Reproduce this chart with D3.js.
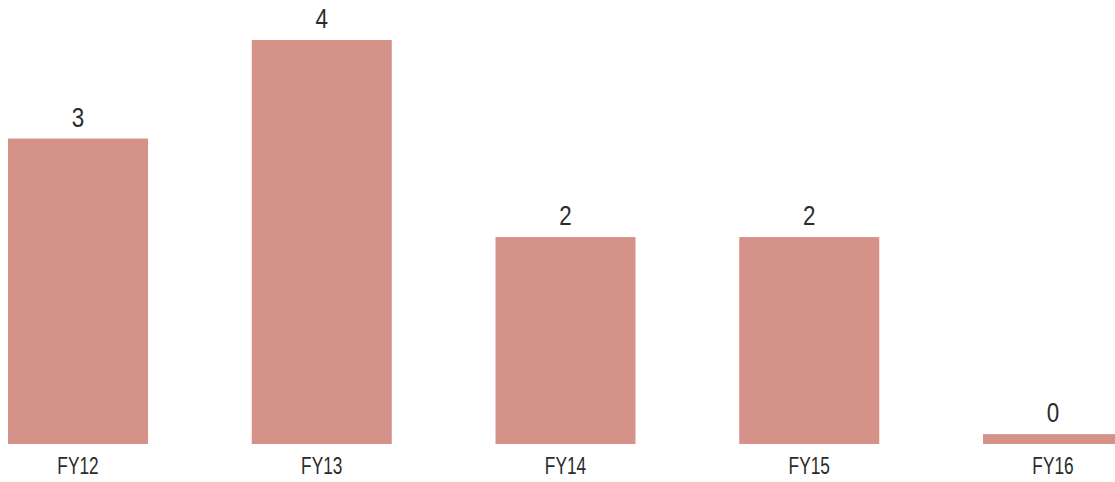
<!DOCTYPE html>
<html>
<head>
<meta charset="utf-8">
<script src="https://cdn.jsdelivr.net/npm/d3@7"></script>
<style>
  html, body { margin: 0; padding: 0; background: #ffffff; overflow: hidden; }
  svg { display: block; }
  text { font-family: "Liberation Sans Narrow", "Arial Narrow", sans-serif; fill: #2b2b2b; }
</style>
</head>
<body>
<svg id="chart" width="1115" height="482"></svg>
<script>
const categories = ["FY12", "FY13", "FY14", "FY15", "FY16"];
const values = [3, 4, 2, 2, 0];

const svg = d3.select("#chart");
const baselineY = 444, topY = 40;

const x = d3.scaleBand()
  .domain(categories)
  .range([8, 1123])
  .paddingInner(0.4256)
  .paddingOuter(0);

const y = d3.scaleLinear()
  .domain([-0.1, d3.max(values)])
  .range([baselineY, topY]);

const data = categories.map((c, i) => ({ c, v: values[i] }));

svg.append("g").selectAll("rect")
  .data(data)
  .join("rect")
  .attr("x", d => x(d.c))
  .attr("width", x.bandwidth())
  .attr("y", d => y(d.v))
  .attr("height", d => baselineY - y(d.v))
  .attr("fill", "#d59289");

svg.append("g").selectAll("text")
  .data(data)
  .join("text")
  .attr("text-anchor", "middle")
  .attr("font-size", 28)
  .attr("transform", d => `translate(${x(d.c) + x.bandwidth() / 2},${y(d.v) - 12}) scale(0.8,1)`)
  .text(d => d.v);

const xAxis = d3.axisBottom(x).tickSize(0).tickPadding(0);
const gx = svg.append("g").attr("transform", `translate(0,${baselineY})`).call(xAxis);
gx.select(".domain").remove();
gx.selectAll(".tick text")
  .attr("y", 0).attr("dy", 0)
  .attr("font-size", 24)
  .attr("font-family", "'Liberation Sans Narrow', 'Arial Narrow', sans-serif")
  .attr("fill", "#2b2b2b")
  .attr("transform", "translate(0,30) scale(0.72,1)");
</script>
</body>
</html>
